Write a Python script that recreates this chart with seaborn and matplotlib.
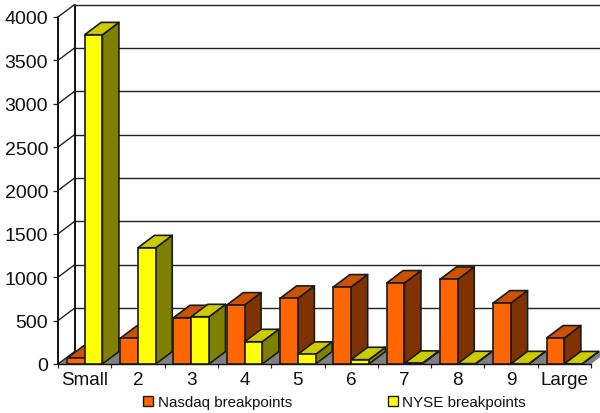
import matplotlib
matplotlib.use("Agg")
import matplotlib.pyplot as plt
from matplotlib.patches import Polygon, Patch
import pandas as pd
import seaborn as sns

categories = ["Small", "2", "3", "4", "5", "6", "7", "8", "9", "Large"]
nasdaq = [65, 296, 534, 680, 757, 888, 934, 976, 703, 300]
nyse = [3795, 1340, 545, 257, 112, 50, 8, 4, 3, 2]
series_names = ["Nasdaq breakpoints", "NYSE breakpoints"]

front_colors = ["#FF6600", "#FFFF00"]
side_colors = ["#803300", "#808000"]
top_colors = ["#CC5200", "#CCCC00"]
EDGE = "#1a1a1a"

W, H = 600, 414
LEFT, RIGHT, BOTTOM, TOP = 58, 591, 365, 18
DEPTH_PX = (16.5, 12.4)

sns.set_style("white")
plt.rcParams["font.family"] = ["Liberation Sans", "DejaVu Sans"]

frame = pd.DataFrame({
    "bucket": categories * 2,
    "value": nasdaq + nyse,
    "series": [series_names[0]] * 10 + [series_names[1]] * 10,
})

fig = plt.figure(figsize=(W / 100, H / 100), dpi=100, facecolor="white")
ax = fig.add_axes([LEFT / W, 1 - BOTTOM / H, (RIGHT - LEFT) / W, (BOTTOM - TOP) / H])
sns.barplot(
    data=frame, x="bucket", y="value", hue="series", order=categories,
    hue_order=series_names, palette=front_colors, width=2 / 3, gap=0,
    saturation=1, legend=False, errorbar=None, ax=ax,
    edgecolor=EDGE, linewidth=1.2,
)
ax.set_xlim(-0.5, 9.5)
ax.set_ylim(0, 4000)
ax.set_xlabel("")
ax.set_ylabel("")
ax.patch.set_alpha(0)
for spine in ax.spines.values():
    spine.set_visible(False)

# Depth of the pseudo-3D box, in data units
dx = DEPTH_PX[0] * 10 / (RIGHT - LEFT)
dy = DEPTH_PX[1] * 4000 / (BOTTOM - TOP)

# Floor, back wall grid and side wall
ax.add_patch(Polygon(
    [(-0.5, 0), (9.5, 0), (9.5 + dx, dy), (-0.5 + dx, dy)],
    closed=True, facecolor="#808080", edgecolor="none", zorder=1, clip_on=False,
))
line_style = dict(color="#222222", lw=1.0, clip_on=False, zorder=1.5, solid_capstyle="butt")
y_ticks = list(range(0, 4001, 500))
for v in y_ticks:
    if v > 0:
        ax.plot([-0.5 + dx, 9.5 + dx], [v + dy, v + dy], **line_style)
    ax.plot([-0.5, -0.5 + dx], [v, v + dy], **line_style)
ax.plot([-0.5, -0.5], [0, 4000], color="#111111", lw=1.4, clip_on=False, zorder=1.6)
ax.plot([-0.5 + dx, -0.5 + dx], [dy, 4000 + dy], color="#111111", lw=1.4, clip_on=False, zorder=1.6)
ax.plot([-0.5, 9.5], [0, 0], color="#111111", lw=1.0, clip_on=False, zorder=1.6)

# Extrude each bar: left to right, Nasdaq before NYSE, so nearer faces overlap correctly
z = 2.0
for cat_index in range(len(categories)):
    for s, container in enumerate(ax.containers):
        bar = container.patches[cat_index]
        x0, w, h = bar.get_x(), bar.get_width(), bar.get_height()
        x1 = x0 + w
        poly_style = dict(closed=True, edgecolor=EDGE, linewidth=1.2, clip_on=False, joinstyle="round")
        ax.add_patch(Polygon(
            [(x1, 0), (x1 + dx, dy), (x1 + dx, h + dy), (x1, h)],
            facecolor=side_colors[s], zorder=z, **poly_style,
        ))
        ax.add_patch(Polygon(
            [(x0, h), (x1, h), (x1 + dx, h + dy), (x0 + dx, h + dy)],
            facecolor=top_colors[s], zorder=z + 0.1, **poly_style,
        ))
        bar.set_zorder(z + 0.2)
        bar.set_clip_on(False)
        z += 1

# Axis ticks and labels
ax.set_yticks(y_ticks)
ax.set_xticks(range(len(categories)))
ax.set_xticklabels(categories)
ax.set_xticks([i - 0.5 for i in range(len(categories) + 1)], minor=True)
ax.tick_params(axis="y", which="major", length=3.6, width=0.9, color="#222222",
               left=True, labelsize=14, pad=3.5, labelcolor="#111111")
ax.tick_params(axis="x", which="major", length=0, labelsize=13.6, pad=5, labelcolor="#111111")
ax.tick_params(axis="x", which="minor", length=3.2, width=0.9, color="#222222", bottom=True)

# Legend swatches and labels
handles = [Patch(facecolor=c, edgecolor=EDGE, linewidth=1.0) for c in front_colors]
ax.legend(
    handles, series_names, ncols=2, frameon=False, fontsize=10.9,
    loc="center left", bbox_to_anchor=(143 / W, 1 - 403.5 / H),
    bbox_transform=fig.transFigure, borderpad=0, borderaxespad=0,
    handlelength=0.66, handleheight=0.66, handletextpad=0.3,
    columnspacing=6.35, labelcolor="#111111",
)

fig.savefig("out.png", dpi=100, facecolor="white")
